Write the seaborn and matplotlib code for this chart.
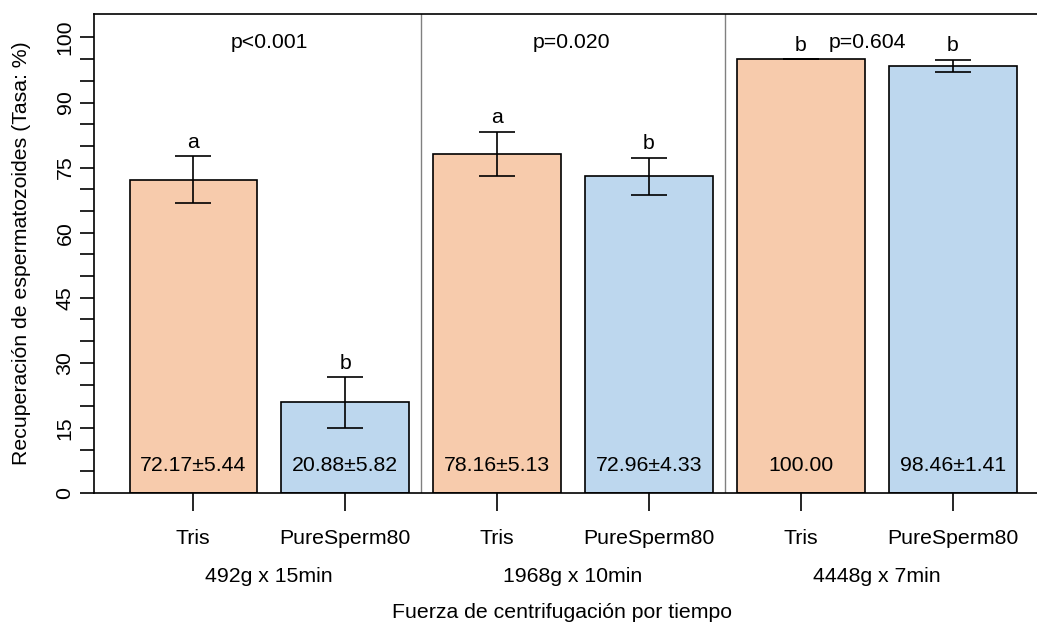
import matplotlib
matplotlib.use("Agg")
import matplotlib.pyplot as plt
import matplotlib.transforms as mtransforms
import seaborn as sns
import pandas as pd

# ---- data ----
groups = ["492g x 15min", "1968g x 10min", "4448g x 7min"]
solutions = ["Tris", "PureSperm80"]
means = [72.17, 20.88, 78.16, 72.96, 100.00, 98.46]
sds = [5.44, 5.82, 5.13, 4.33, 0.0, 1.41]
value_labels = ["72.17±5.44", "20.88±5.82", "78.16±5.13", "72.96±4.33", "100.00", "98.46±1.41"]
letters = ["a", "b", "a", "b", "b", "b"]
p_values = ["p<0.001", "p=0.020", "p=0.604"]
ytick_pos = list(range(0, 110, 5))
ylabel_pos = [0, 15, 30, 45, 60, 75, 90, 105]
ylabel_txt = ["0", "15", "30", "45", "60", "75", "90", "100"]
colors = {"Tris": "#F7CBAC", "PureSperm80": "#BDD7EE"}

ids = [f"{g}|{s}" for g in groups for s in solutions]
df = pd.DataFrame({
    "id": ids,
    "group": [g for g in groups for s in solutions],
    "sol": [s for g in groups for s in solutions],
    "mean": means,
    "sd": sds,
})

sns.set_style("white")
plt.rcParams["font.family"] = ["Liberation Sans", "DejaVu Sans"]
for k in ["text.color", "axes.labelcolor", "xtick.color", "ytick.color", "axes.edgecolor"]:
    plt.rcParams[k] = "black"
FS = 15.3

fig = plt.figure(figsize=(10.37, 6.25), dpi=100)
ax = fig.add_axes([94 / 1037, 1 - 493 / 625, 1 - 94 / 1037 + 0.002, (493 - 14) / 625])

sns.barplot(data=df, x="id", y="mean", hue="sol", order=ids, palette=colors,
            dodge=False, width=0.838, edgecolor="black", linewidth=1.2,
            errorbar=None, legend=False, ax=ax, saturation=1)

xs = list(range(len(ids)))
ax.errorbar(xs, df["mean"], yerr=df["sd"], fmt="none", ecolor="black",
            elinewidth=1.2, capsize=13, capthick=1.2, zorder=5)

ax.set_xlim(-0.653, 5.567)
ax.set_ylim(0, 110.4)

# separators
for sx in [1.5, 3.5]:
    ax.axvline(sx, color="#808080", lw=1.0, zorder=1)

# spines
for side in ["left", "top", "bottom"]:
    ax.spines[side].set_visible(True)
    ax.spines[side].set_color("black")
    ax.spines[side].set_linewidth(1.2)
ax.spines["right"].set_visible(False)

# y axis
ax.set_yticks(ytick_pos, minor=True)
ax.set_yticks(ylabel_pos)
ax.set_yticklabels(ylabel_txt, rotation=90, va="center", fontsize=FS)
ax.tick_params(axis="y", which="both", length=10, width=1.2, color="black",
               direction="out", left=True, pad=4, labelcolor="black")
ax.set_ylabel("")
fig.text(22 / 1037, 1 - 253 / 625, "Recuperación de espermatozoides (Tasa: %)",
         rotation=90, ha="center", va="center", fontsize=FS, color="black")

# x axis
ax.set_xticks(xs)
ax.set_xticklabels([s for g in groups for s in solutions], fontsize=FS)
ax.tick_params(axis="x", length=13, width=1.2, color="black", direction="out",
               bottom=True, pad=13, labelcolor="black")
ax.set_xlabel("")
fig.text((94 + 1037) / 2 / 1037 - 0.003, 1 - 613 / 625, "Fuerza de centrifugación por tiempo",
         ha="center", va="center", fontsize=FS, color="black")

# group labels
trans = mtransforms.blended_transform_factory(ax.transData, fig.transFigure)
for i, g in enumerate(groups):
    ax.text(2 * i + 0.5, 1 - 577 / 625, g, transform=trans, ha="center",
            va="center", fontsize=FS, color="black")

# value labels inside bars
for x, t in zip(xs, value_labels):
    ax.text(x, 6.4, t, ha="center", va="center", fontsize=FS, zorder=6, color="black")

# letters above error bars
for x, m, s, l in zip(xs, means, sds, letters):
    ax.text(x, m + s + 3.2, l, ha="center", va="center", fontsize=FS, zorder=6, color="black")

# p-values
p_offsets = [0.0, -0.01, -0.06]
for i, (p, o) in enumerate(zip(p_values, p_offsets)):
    ax.text(2 * i + 0.5 + o, 103.9, p, ha="center", va="center", fontsize=FS, color="black")

fig.savefig("out.png", dpi=100)
